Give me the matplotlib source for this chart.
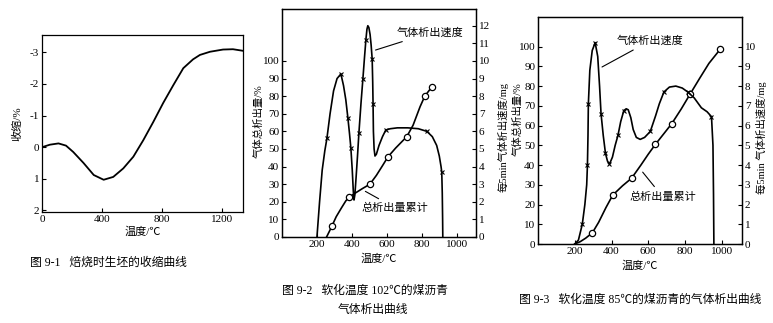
import matplotlib
matplotlib.use("Agg")
import matplotlib.pyplot as plt

plt.rcParams['font.family'] = ['Liberation Serif', 'Noto Sans CJK SC']
plt.rcParams['axes.linewidth'] = 0.9

W, H = 773, 323

# ---- 图 9-1 收缩曲线 ----
shrink_t = [0, 53, 110, 160, 208, 277, 345, 411, 475, 542, 609, 675, 742, 808, 875,
            942, 1007, 1053, 1120, 1207, 1273, 1340]
shrink_v = [0, -0.08, -0.12, -0.05, 0.15, 0.5, 0.88, 1.03, 0.94, 0.67, 0.3, -0.22,
            -0.8, -1.4, -1.96, -2.5, -2.78, -2.92, -3.02, -3.09, -3.1, -3.05]

# ---- 图 9-2 软化温度102℃ ----
rate2_t = [200, 215, 230, 245, 257, 275, 295, 315, 337, 352, 365, 377, 386, 394, 402,
           408, 412, 417, 424, 432, 440, 452, 463, 472, 480, 486, 491, 497, 504, 510,
           516, 519, 521, 523, 527, 532, 540, 555, 575, 594, 620, 660, 720, 780, 829,
           860, 885, 900, 910, 914, 917, 919, 920]
rate2_v = [0, 2.0, 3.8, 4.9, 5.6, 7.0, 8.3, 9.0, 9.26, 8.6, 7.8, 6.76, 5.9, 5.06, 3.8,
           2.6, 2.1, 2.4, 3.4, 4.6, 5.9, 7.6, 9.0, 10.2, 11.2, 11.8, 12.0, 11.9, 11.5, 10.9,
           10.1, 8.8, 7.56, 6.0, 5.0, 4.6, 4.7, 5.2, 5.7, 6.08, 6.15, 6.2, 6.2, 6.15, 6.0,
           5.7, 5.2, 4.6, 4.0, 3.7, 2.5, 1.0, 0]
rate2_marks = [4, 8, 11, 13, 20, 22, 24, 30, 32, 39, 44, 49]

cum2_t = [255, 270, 287, 310, 340, 365, 383, 420, 460, 503, 540, 575, 606, 650, 714,
          750, 790, 817, 840, 857]
cum2_v = [0, 3.0, 6.5, 11.5, 16.5, 20.5, 22.5, 25, 27.5, 30, 35, 40.5, 45.5, 50.5, 57,
          63.5, 74, 80, 83, 85]
cum2_marks = [2, 6, 9, 12, 14, 17, 19]

# ---- 图 9-3 软化温度85℃ ----
rate3_t = [200, 220, 241, 255, 265, 269, 272, 274, 282, 295, 311, 325, 335, 343, 355,
           367, 378, 389, 405, 420, 435, 450, 467, 480, 491, 505, 518, 535, 556, 580,
           611, 640, 660, 685, 715, 750, 785, 815, 850, 889, 920, 944, 952, 955, 957]
rate3_pct = [0, 2, 10, 20, 30, 40, 55, 71, 88, 98, 102, 95, 80, 66, 55,
             46, 42, 40.5, 44, 50, 55, 62, 67.6, 68.5, 68, 64, 58, 54, 53, 54,
             57, 65, 71, 77, 79.5, 80, 79, 77, 74, 69, 67, 64.5, 50, 25, 0]
rate3_marks = [2, 5, 7, 10, 13, 15, 17, 20, 22, 30, 33, 37, 41]

cum3_t = [200, 230, 260, 296, 330, 370, 407, 460, 509, 560, 600, 639, 690, 728, 780,
          828, 880, 930, 991]
cum3_v = [0, 1.2, 3, 5.7, 11, 18.5, 24.8, 29.5, 33.3, 40, 45.5, 50.5, 56.5, 61, 68.5,
          76, 84, 91.5, 98.6]
cum3_marks = [3, 6, 8, 11, 13, 15, 18]

fig = plt.figure(figsize=(W / 100, H / 100), dpi=100)
fig.patch.set_facecolor('white')


def box(l, t, r, b):
    return [l / W, 1 - b / H, (r - l) / W, (b - t) / H]


def style(ax, size=8):
    ax.tick_params(direction='in', length=3, width=0.8, labelsize=size, pad=2)


# panel 1
ax1 = fig.add_axes(box(42, 35, 243, 212))
ax1.plot(shrink_t, shrink_v, color='black', lw=1.3)
ax1.set_xlim(0, 1340)
ax1.set_ylim(2.05, -3.55)
ax1.set_xticks([0, 400, 800, 1200])
ax1.set_yticks([-3, -2, -1, 0, 1, 2])
ax1.set_yticklabels(['-3', '-2', '-1', '0', '1', '2'])
style(ax1)
ax1.set_xlabel('温度/℃', fontsize=8, labelpad=2)
ax1.set_ylabel('收缩/%', fontsize=8)
ax1.yaxis.set_label_coords(-0.097, 0.5)
fig.text(30 / W, 1 - 263 / H, '图 9-1   焙烧时生坯的收缩曲线', fontsize=8.5, va='center')

# panel 2
ax2 = fig.add_axes(box(282, 9, 476, 237))
ax2r = ax2.twinx()
ax2.plot(cum2_t, cum2_v, color='black', lw=1.2, marker='o', ms=4.5, mfc='white',
         mec='black', mew=0.9, markevery=cum2_marks)
ax2r.plot(rate2_t, rate2_v, color='black', lw=1.2, marker='x', ms=3, mew=0.8,
          markevery=rate2_marks)
ax2.set_xlim(0, 1110)
ax2.set_ylim(0, 129.5)
ax2r.set_ylim(0, 12.95)
ax2.set_xticks([200, 400, 600, 800, 1000])
ax2.set_yticks(range(0, 101, 10))
ax2r.set_yticks(range(0, 13))
style(ax2)
style(ax2r)
ax2.set_xlabel('温度/℃', fontsize=8, labelpad=3)
ax2.set_ylabel('气体总析出量/%', fontsize=7.5)
ax2.yaxis.set_label_coords(-0.095, 0.51)
ax2r.set_ylabel('每5min气体析出速度/mg', fontsize=7.5)
ax2r.yaxis.set_label_coords(1.111, 0.44)
ax2.annotate('气体析出速度', xy=(520, 105.7), xytext=(657, 116), fontsize=8,
             va='center', arrowprops=dict(arrowstyle='-', color='black', lw=0.8))
ax2.annotate('总析出量累计', xy=(463, 26.7), xytext=(457, 16.5), fontsize=8,
             va='center', arrowprops=dict(arrowstyle='-', color='black', lw=0.8))
fig.text(365 / W, 1 - 291 / H, '图 9-2   软化温度 102℃的煤沥青', fontsize=8.5,
         ha='center', va='center')
fig.text(373 / W, 1 - 310 / H, '气体析出曲线', fontsize=8.5, ha='center', va='center')

# panel 3
ax3 = fig.add_axes(box(538, 17, 742, 244))
ax3r = ax3.twinx()
ax3.plot(cum3_t, cum3_v, color='black', lw=1.2, marker='o', ms=4.5, mfc='white',
         mec='black', mew=0.9, markevery=cum3_marks)
ax3.plot(rate3_t, rate3_pct, color='black', lw=1.2, marker='x', ms=3, mew=0.8,
         markevery=rate3_marks)
ax3.set_xlim(0, 1110)
ax3.set_ylim(0, 115)
ax3r.set_ylim(0, 11.5)
ax3.set_xticks([200, 400, 600, 800, 1000])
ax3.set_yticks(range(0, 101, 10))
ax3r.set_yticks(range(0, 11))
style(ax3)
style(ax3r)
ax3.set_xlabel('温度/℃', fontsize=8, labelpad=3)
ax3.set_ylabel('气体总析出量/%', fontsize=7.5)
ax3.yaxis.set_label_coords(-0.076, 0.55)
ax3r.set_ylabel('每5min 气体析出速度/mg', fontsize=7.5)
ax3r.yaxis.set_label_coords(1.071, 0.47)
ax3.annotate('气体析出速度', xy=(335, 89), xytext=(430, 103), fontsize=8,
             va='center', arrowprops=dict(arrowstyle='-', color='black', lw=0.8))
ax3.annotate('总析出量累计', xy=(560, 37.5), xytext=(496, 24), fontsize=8,
             va='center', arrowprops=dict(arrowstyle='-', color='black', lw=0.8))
fig.text(640 / W, 1 - 300 / H, '图 9-3   软化温度 85℃的煤沥青的气体析出曲线', fontsize=8.5,
         ha='center', va='center')

fig.savefig('out.png', dpi=100, facecolor='white')
